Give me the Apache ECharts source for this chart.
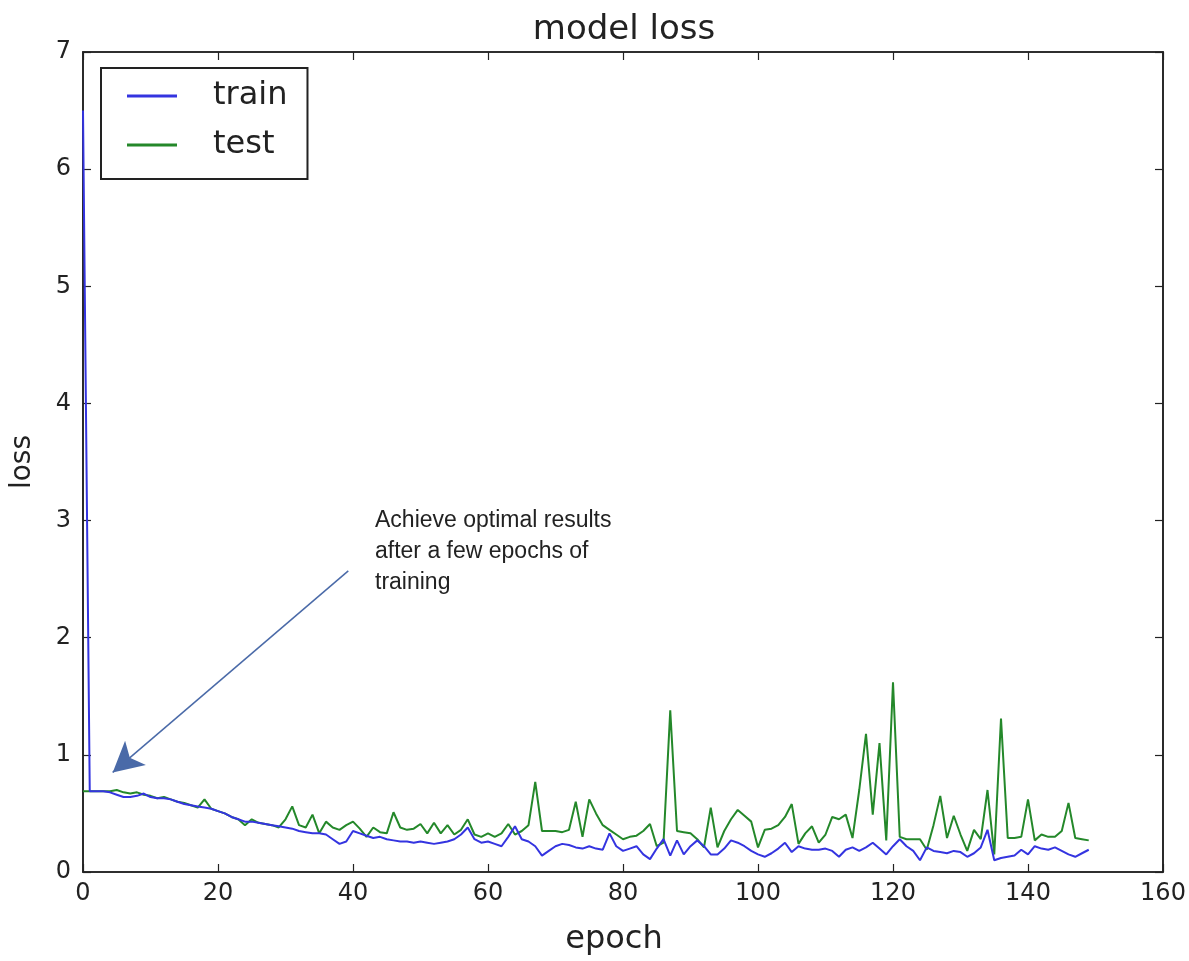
<!DOCTYPE html>
<html>
<head>
<meta charset="utf-8">
<title>model loss</title>
<script src="https://cdn.jsdelivr.net/npm/echarts@6/dist/echarts.min.js"></script>
<style>
  html, body { margin: 0; padding: 0; background: #ffffff; }
  #chart { width: 1189px; height: 961px; }
</style>
</head>
<body>
<div id="chart"></div>
<script>
// Loss per epoch (epochs 0..149)
const trainLoss = [
  6.50, 0.69, 0.69, 0.69, 0.68, 0.66, 0.64, 0.64, 0.65, 0.67,
  0.64, 0.63, 0.63, 0.62, 0.60, 0.58, 0.57, 0.56, 0.55, 0.54,
  0.52, 0.50, 0.47, 0.45, 0.43, 0.43, 0.42, 0.41, 0.40, 0.39,
  0.38, 0.37, 0.35, 0.34, 0.33, 0.33, 0.32, 0.28, 0.24, 0.26,
  0.35, 0.33, 0.31, 0.29, 0.30, 0.28, 0.27, 0.26, 0.26, 0.25,
  0.26, 0.25, 0.24, 0.25, 0.26, 0.28, 0.32, 0.38, 0.28, 0.25,
  0.26, 0.24, 0.22, 0.30, 0.39, 0.28, 0.26, 0.22, 0.14, 0.18,
  0.22, 0.24, 0.23, 0.21, 0.20, 0.22, 0.20, 0.19, 0.33, 0.22,
  0.18, 0.20, 0.22, 0.15, 0.11, 0.20, 0.28, 0.14, 0.27, 0.15,
  0.22, 0.27, 0.22, 0.15, 0.15, 0.20, 0.27, 0.25, 0.22, 0.18,
  0.15, 0.13, 0.16, 0.20, 0.25, 0.17, 0.22, 0.20, 0.19, 0.19,
  0.20, 0.18, 0.13, 0.19, 0.21, 0.18, 0.21, 0.25, 0.20, 0.15,
  0.22, 0.28, 0.22, 0.18, 0.10, 0.21, 0.18, 0.17, 0.16, 0.18,
  0.17, 0.13, 0.16, 0.21, 0.36, 0.10, 0.12, 0.13, 0.14, 0.19,
  0.15, 0.22, 0.20, 0.19, 0.21, 0.18, 0.15, 0.13, 0.16, 0.19
];
const testLoss = [
  0.69, 0.69, 0.69, 0.69, 0.69, 0.70, 0.68, 0.67, 0.68, 0.66,
  0.65, 0.63, 0.64, 0.62, 0.60, 0.59, 0.57, 0.55, 0.62, 0.54,
  0.52, 0.50, 0.47, 0.45, 0.40, 0.45, 0.42, 0.41, 0.40, 0.38,
  0.45, 0.56, 0.40, 0.38, 0.49, 0.33, 0.43, 0.38, 0.36, 0.40,
  0.43, 0.37, 0.30, 0.38, 0.34, 0.33, 0.51, 0.38, 0.36, 0.37,
  0.41, 0.33, 0.42, 0.33, 0.40, 0.32, 0.36, 0.45, 0.32, 0.30,
  0.33, 0.30, 0.33, 0.41, 0.32, 0.35, 0.40, 0.77, 0.35, 0.35,
  0.35, 0.34, 0.36, 0.60, 0.30, 0.62, 0.50, 0.40, 0.36, 0.32,
  0.28, 0.30, 0.31, 0.35, 0.41, 0.22, 0.25, 1.38, 0.35, 0.34,
  0.33, 0.28, 0.21, 0.55, 0.21, 0.35, 0.45, 0.53, 0.48, 0.43,
  0.21, 0.36, 0.37, 0.40, 0.47, 0.58, 0.24, 0.33, 0.39, 0.25,
  0.32, 0.47, 0.45, 0.49, 0.29, 0.70, 1.18, 0.49, 1.10, 0.27,
  1.62, 0.30, 0.28, 0.28, 0.28, 0.19, 0.40, 0.65, 0.29, 0.48,
  0.32, 0.18, 0.36, 0.28, 0.70, 0.15, 1.31, 0.29, 0.29, 0.30,
  0.62, 0.27, 0.32, 0.30, 0.30, 0.35, 0.59, 0.29, 0.28, 0.27
];
const seriesNames = ['train', 'test'];
const xTicks = { min: 0, max: 160, step: 20 };
const yTicks = { min: 0, max: 7, step: 1 };

// Annotation: arrow from the note down to the early epochs
const noteLines = ['Achieve optimal results', 'after a few epochs of', 'training'];
const arrowFrom = [39.3, 2.57];
const arrowTo = [4.4, 0.85];

const toPairs = arr => arr.map((v, i) => [i, v]);

const GRID = { left: 83, top: 52, width: 1080, height: 826 };
const AXIS_COLOR = '#222';
const FONT = '"DejaVu Sans", sans-serif';
const TRAIN_COLOR = '#3434e0';
const TEST_COLOR = '#24882a';

const baseAxis = {
  axisLine: { show: true, onZero: false, lineStyle: { color: AXIS_COLOR, width: 1.6 } },
  axisTick: { show: true, inside: true, length: 8, lineStyle: { color: AXIS_COLOR, width: 1.2 } },
  splitLine: { show: false }
};

const chart = echarts.init(document.getElementById('chart'), null, { renderer: 'canvas' });

chart.setOption({
  animation: false,
  backgroundColor: '#ffffff',
  title: {
    text: 'model loss',
    left: GRID.left + GRID.width / 2 - 4,
    textAlign: 'center',
    top: 8,
    textStyle: { fontFamily: FONT, fontSize: 34, fontWeight: 'normal', color: '#222' }
  },
  grid: Object.assign({ show: true, borderColor: AXIS_COLOR, borderWidth: 1.6, containLabel: false }, GRID),
  legend: {
    data: seriesNames.map(n => ({ name: n, icon: 'rect' })),
    orient: 'vertical',
    left: 101,
    top: 68,
    padding: [10, 20, 16, 26],
    itemGap: 13,
    itemWidth: 50,
    itemHeight: 3,
    borderColor: '#222',
    borderWidth: 2,
    borderRadius: 0,
    backgroundColor: '#ffffff',
    textStyle: { fontFamily: FONT, fontSize: 32, lineHeight: 36, color: '#222', padding: [0, 0, 0, 31] }
  },
  xAxis: [
    Object.assign({}, baseAxis, {
      type: 'value', position: 'bottom',
      min: xTicks.min, max: xTicks.max, interval: xTicks.step,
      name: 'epoch', nameLocation: 'middle', nameGap: 52,
      nameTextStyle: { fontFamily: FONT, fontSize: 32, color: '#222', padding: [0, 18, 0, 0] },
      axisLabel: { fontFamily: FONT, fontSize: 24, color: '#222', margin: 10 }
    }),
    Object.assign({}, baseAxis, {
      type: 'value', position: 'top',
      min: xTicks.min, max: xTicks.max, interval: xTicks.step,
      axisLabel: { show: false }
    })
  ],
  yAxis: [
    Object.assign({}, baseAxis, {
      type: 'value', position: 'left',
      min: yTicks.min, max: yTicks.max, interval: yTicks.step,
      name: 'loss', nameLocation: 'middle', nameGap: 46,
      nameTextStyle: { fontFamily: FONT, fontSize: 28, color: '#222' },
      axisLabel: { fontFamily: FONT, fontSize: 24, color: '#222', margin: 12 }
    }),
    Object.assign({}, baseAxis, {
      type: 'value', position: 'right',
      min: yTicks.min, max: yTicks.max, interval: yTicks.step,
      axisLabel: { show: false }
    })
  ],
  series: [
    {
      name: seriesNames[0],
      type: 'line',
      data: toPairs(trainLoss),
      symbol: 'none',
      lineStyle: { color: TRAIN_COLOR, width: 2 },
      itemStyle: { color: TRAIN_COLOR },
      z: 3
    },
    {
      name: seriesNames[1],
      type: 'line',
      data: toPairs(testLoss),
      symbol: 'none',
      lineStyle: { color: TEST_COLOR, width: 2 },
      itemStyle: { color: TEST_COLOR },
      z: 2,
      markLine: {
        silent: true,
        symbol: ['none', 'arrow'],
        symbolSize: [24, 30],
        label: { show: false },
        lineStyle: { color: '#4a6aa8', width: 1.5, type: 'solid' },
        data: [[{ coord: arrowFrom }, { coord: arrowTo }]]
      }
    }
  ],
  graphic: [{
    type: 'text',
    left: 375,
    top: 505,
    style: {
      text: noteLines.join('\n'),
      font: '23px "Liberation Sans", Arial, sans-serif',
      lineHeight: 31,
      fill: '#222'
    }
  }]
});
</script>
</body>
</html>
